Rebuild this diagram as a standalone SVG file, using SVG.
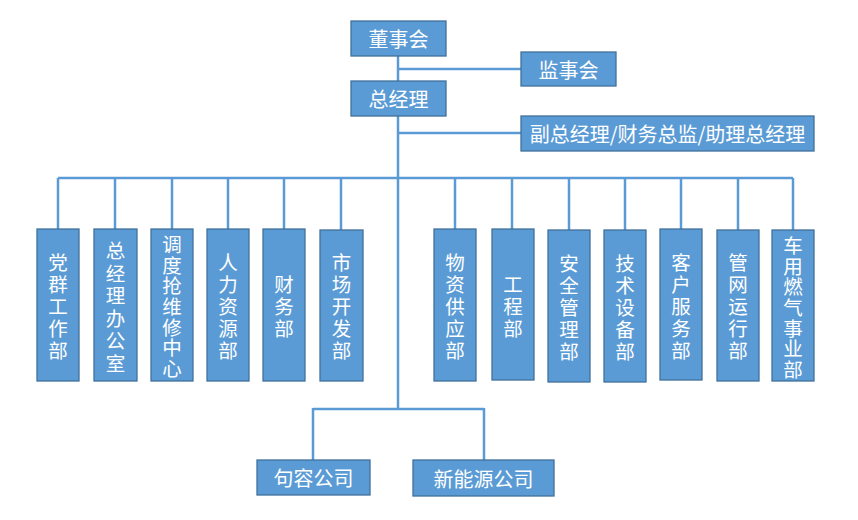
<svg xmlns="http://www.w3.org/2000/svg" width="858" height="520" viewBox="0 0 858 520">
<style>
.box{fill:#5B9BD5;stroke:#41719C;stroke-width:1.3}
.ln{stroke:#5B9BD5;stroke-width:2.5;fill:none}
.t{fill:#fff;font-family:"Noto Sans CJK SC","Microsoft YaHei",sans-serif;font-size:20px;text-anchor:middle;dominant-baseline:central}
.v{font-size:19.5px}
</style>
<rect width="858" height="520" fill="#fff"/>
<g id="connectors">
<path class="ln" d="M398,56V409M398,69H521M398,133H521M58,178H793M58,178V229M115,178V229M172,178V229M228,178V229M284,178V229M341,178V230M455,178V229M512,178V229M569,178V230M625,178V230M681,178V229M738,178V230M793,178V230M313,409H484M313,408V460M484,408V460"/>
</g>
<g id="n1"><rect class="box" x="351" y="21" width="95" height="35"/><text class="t" x="398.5" y="38.5">董事会</text></g>
<g id="n2"><rect class="box" x="521" y="52" width="95" height="34"/><text class="t" x="568.5" y="69">监事会</text></g>
<g id="n3"><rect class="box" x="351" y="81" width="95" height="35"/><text class="t" x="398.5" y="98.5">总经理</text></g>
<g id="n4"><rect class="box" x="521" y="116" width="293" height="35"/><text class="t" x="667.5" y="133.5">副总经理/财务总监/助理总经理</text></g>
<g id="d1"><rect class="box" x="37" y="229" width="42" height="152"/><text class="t v"><tspan x="58" y="261">党</tspan><tspan x="58" y="283">群</tspan><tspan x="58" y="305">工</tspan><tspan x="58" y="327">作</tspan><tspan x="58" y="349">部</tspan></text></g>
<g id="d2"><rect class="box" x="94" y="229" width="43" height="152"/><text class="t v"><tspan x="115.5" y="249">总</tspan><tspan x="115.5" y="271.5">经</tspan><tspan x="115.5" y="294">理</tspan><tspan x="115.5" y="316.5">办</tspan><tspan x="115.5" y="339">公</tspan><tspan x="115.5" y="361.5">室</tspan></text></g>
<g id="d3"><rect class="box" x="151" y="229" width="42" height="152"/><text class="t v"><tspan x="172" y="243">调</tspan><tspan x="172" y="263.7">度</tspan><tspan x="172" y="284.3">抢</tspan><tspan x="172" y="305">维</tspan><tspan x="172" y="325.7">修</tspan><tspan x="172" y="346.3">中</tspan><tspan x="172" y="367">心</tspan></text></g>
<g id="d4"><rect class="box" x="207" y="229" width="42" height="152"/><text class="t v"><tspan x="228" y="261">人</tspan><tspan x="228" y="283">力</tspan><tspan x="228" y="305">资</tspan><tspan x="228" y="327">源</tspan><tspan x="228" y="349">部</tspan></text></g>
<g id="d5"><rect class="box" x="263" y="229" width="42" height="152"/><text class="t v"><tspan x="284" y="283">财</tspan><tspan x="284" y="305">务</tspan><tspan x="284" y="327">部</tspan></text></g>
<g id="d6"><rect class="box" x="320" y="230" width="43" height="151"/><text class="t v"><tspan x="341.5" y="261">市</tspan><tspan x="341.5" y="283">场</tspan><tspan x="341.5" y="305">开</tspan><tspan x="341.5" y="327">发</tspan><tspan x="341.5" y="349">部</tspan></text></g>
<g id="d7"><rect class="box" x="434" y="229" width="42" height="152"/><text class="t v"><tspan x="455" y="261">物</tspan><tspan x="455" y="283">资</tspan><tspan x="455" y="305">供</tspan><tspan x="455" y="327">应</tspan><tspan x="455" y="349">部</tspan></text></g>
<g id="d8"><rect class="box" x="492" y="229" width="42" height="151"/><text class="t v"><tspan x="513" y="283">工</tspan><tspan x="513" y="305">程</tspan><tspan x="513" y="327">部</tspan></text></g>
<g id="d9"><rect class="box" x="548" y="230" width="42" height="152"/><text class="t v"><tspan x="569" y="262">安</tspan><tspan x="569" y="284">全</tspan><tspan x="569" y="306">管</tspan><tspan x="569" y="328">理</tspan><tspan x="569" y="350">部</tspan></text></g>
<g id="d10"><rect class="box" x="604" y="230" width="42" height="152"/><text class="t v"><tspan x="625" y="262">技</tspan><tspan x="625" y="284">术</tspan><tspan x="625" y="306">设</tspan><tspan x="625" y="328">备</tspan><tspan x="625" y="350">部</tspan></text></g>
<g id="d11"><rect class="box" x="660" y="229" width="42" height="151"/><text class="t v"><tspan x="681" y="261">客</tspan><tspan x="681" y="283">户</tspan><tspan x="681" y="305">服</tspan><tspan x="681" y="327">务</tspan><tspan x="681" y="349">部</tspan></text></g>
<g id="d12"><rect class="box" x="717" y="230" width="42" height="151"/><text class="t v"><tspan x="738" y="261">管</tspan><tspan x="738" y="283">网</tspan><tspan x="738" y="305">运</tspan><tspan x="738" y="327">行</tspan><tspan x="738" y="349">部</tspan></text></g>
<g id="d13"><rect class="box" x="772" y="230" width="42" height="151"/><text class="t v"><tspan x="793" y="244">车</tspan><tspan x="793" y="264.7">用</tspan><tspan x="793" y="285.3">燃</tspan><tspan x="793" y="306">气</tspan><tspan x="793" y="326.7">事</tspan><tspan x="793" y="347.3">业</tspan><tspan x="793" y="368">部</tspan></text></g>
<g id="c1"><rect class="box" x="257" y="460" width="113" height="35"/><text class="t" x="313.5" y="477.5">句容公司</text></g>
<g id="c2"><rect class="box" x="413" y="460" width="141" height="36"/><text class="t" x="483.5" y="478">新能源公司</text></g>
</svg>
